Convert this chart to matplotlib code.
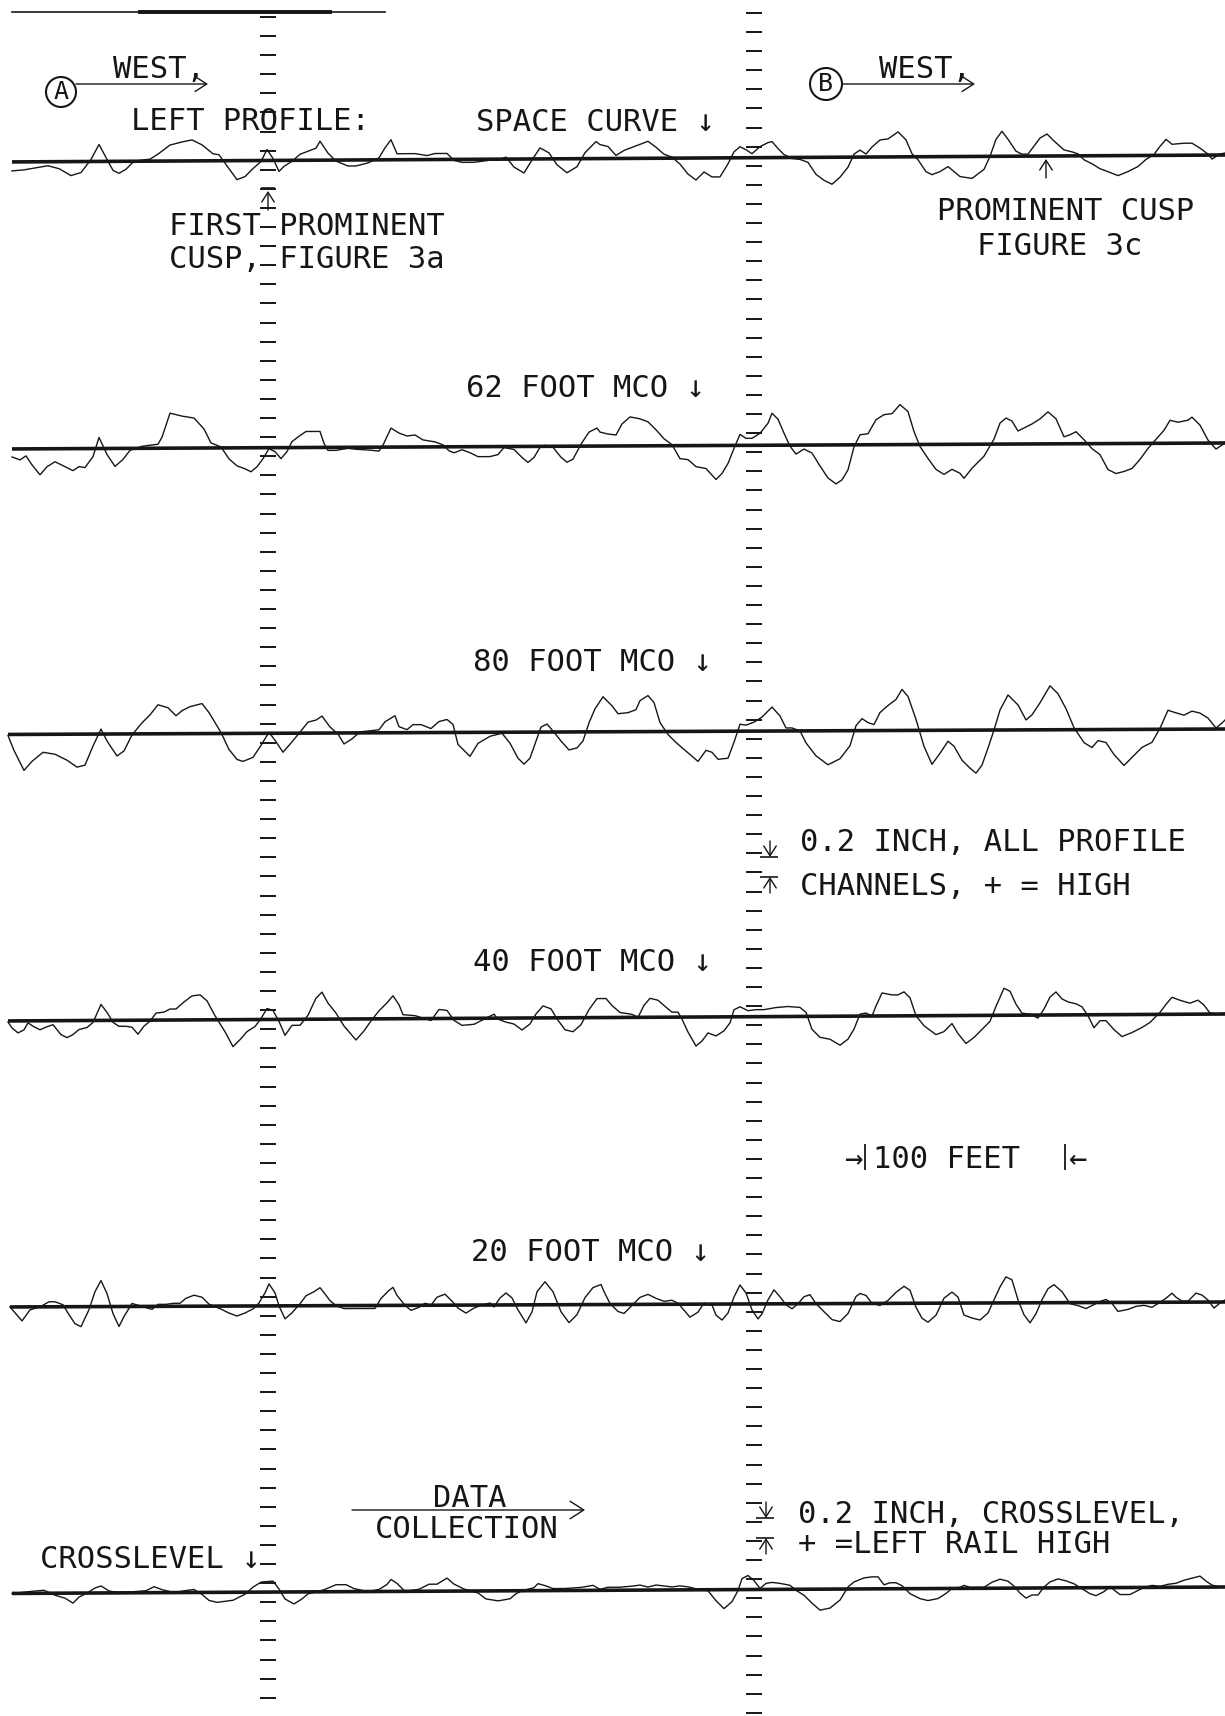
import numpy as np
import matplotlib.pyplot as plt
from matplotlib.patches import Circle

# recorder channels: distance along track (feet) and offset (1/50 inch, + = high)
space_ft = [6, 12, 18, 24, 29.5, 35.5, 40.5, 45.5, 49.5, 53.5, 56.5, 59.5, 63, 67, 75, 79, 85, 91, 96, 101,
            106.5, 109.5, 114.5, 118.5, 122.5, 126.5, 130.5, 133.5, 136.5, 139.5, 142, 146, 150, 154, 158, 160,
            164, 168, 174, 178, 184, 189.5, 192.5, 195.5, 198.5, 201.5, 207.5, 213.5, 217.5, 223.5, 227, 231,
            237, 245, 249, 253, 257, 262, 266, 270, 274.5, 278.5, 283.5, 288.5, 292.5, 298,
            300, 304, 308, 312, 316, 320, 324, 328, 332, 336, 340, 344, 348, 352, 356, 360, 364, 367, 370, 373,
            376, 380, 384, 386, 389, 392, 396, 400, 404, 408, 412, 416, 420, 424, 427, 430, 433, 436, 440, 444,
            449, 453, 456, 459, 463, 466, 470, 474, 477, 480, 486, 492, 495, 498, 501, 504, 508, 511, 514, 517,
            520, 523.5, 527, 532, 536, 539, 542, 546, 550, 554, 559, 564, 569, 573, 577, 580, 583, 586, 592,
            596, 600, 604, 606, 610, 612.5]
space_off = [-4.5, -4, -3, -2, -3.5, -7, -5.5, 1, 8.5, 1, -4.5, -6, -4, 0, 1, 3.5, 8, 9.5, 10.5, 8,
             3.5, 3, -4, -9.5, -8, -4, -0.5, 5.5, 1, -5.5, -3, -0.5, 3, 4.5, 6, 9.5,
             3.5, -0.5, -3, -3, -1.5, 1, 6, 10, 3, 3, 3, 2, 3, 3, -0.5, -1.5,
             -1.5, -0.5, -0.5, 1, -4, -7, -0.5, 5.5, 3, -3, -7, -4, 3, 8.5,
             7, 6, 1.5, 4, 5.5, 7, 8.5, 5.5, 2, 0.5, -3, -8, -11, -7, -9.5, -9.5, -3, 3, 5.5, 4,
             2, 5.5, 7.5, 8, 4.5, 1.5, -0.5, -1, -2.5, -8.5, -11.5, -13.5, -10, -5, 1.5, 3.5, 1.5, 5, 8.5, 9,
             12.5, 8.5, 1.5, -1.5, -7.5, -9, -7.5, -5, -7.5, -10, -11, -6.5, 0, 8.5, 12.5, 8.5, 2.5, 1, 1, 5,
             9, 11, 7.5, 3, 2, 1, -2, -4, -6.5, -8, -10, -8, -5.5, -2, 0.5, 4.5, 8, 5.5, 6,
             6, 3.5, 0.5, -2, 0.5, 1]

mco62_ft = [6, 10, 13, 16, 20, 23.5, 27.5, 31.5, 36.5, 39.5, 42.5, 46.5, 49.5, 53.5, 57.5, 61.5, 65, 71, 79, 81,
            85, 91, 97, 102, 105.5, 110.5, 114.5, 118.5, 122.5, 125.5, 128.5, 131.5, 134.5, 137.5, 140.5, 143.5,
            146, 150, 153, 160, 162, 164, 168, 174, 178, 185.5, 189.5, 191.5, 195.5, 199.5, 203.5, 207.5, 211.5,
            217.5, 221.5, 224.5, 227, 231, 235, 239, 245, 249, 252, 257, 261, 264, 267, 270, 272.5, 276.5, 280.5,
            283.5, 286.5, 290.5, 294.5, 298.5,
            300, 304, 308, 311, 315, 320, 324, 328, 332, 336, 340, 344, 348, 353, 358, 361, 364, 367, 370, 373,
            376, 380, 384, 386, 389, 392, 395, 398, 402, 406, 410, 414, 418, 421, 424, 427, 430, 434, 438, 442,
            446, 450, 454, 457, 460, 464, 468, 472, 476, 480, 482, 486, 492, 497, 500, 503, 506, 509, 512, 516,
            520, 524, 528, 532, 535, 538, 542, 546, 550, 554, 558, 562, 566, 570, 574, 578, 582, 585, 589, 594,
            596, 600, 604, 608, 611, 612.5]
mco62_off = [-4, -5.5, -3.5, -8, -13, -9, -6.5, -8.5, -11, -9, -9.5, -4, 5.5, -3, -9, -5.5, -1, 1, 2, 5.5,
             17.5, 16, 15, 9.5, 2.5, 0.5, -5.5, -9, -10.5, -12, -9.5, -5.5, -0.5, -2, -5.5, -2,
             3, 6, 8, 8, 2, -1.5, -1.5, -0.5, -1, -1.5, -2, 1, 9.5, 7, 5.5, 6, 3.5,
             2.5, 1, -2, -3, -1.5, -3, -5, -5, -4, -0.5, -1.5, -5.5, -8, -5.5, -0.5, 0.5, -0.5, -5.5,
             -8, -6.5, 1, 7, 9,
             7, 6, 5.5, 11, 14.5, 13.5, 12, 8, 3.5, 0.5, -6.5, -7, -10.5, -11.5, -17, -14, -9, -1.5, 5.5, 3.5,
             3.5, 6, 11, 16, 13, 6, -0.5, -4.5, -2, -4, -10.5, -16.5, -19.5, -17.5, -12.5, -1, 5, 5.5, 12.5, 15,
             15.5, 20, 16.5, 6.5, -1, -7, -12.5, -15, -12.5, -14.5, -17, -12, -6, 2.5, 10.5, 13, 11.5, 6.5, 8, 10,
             12.5, 16, 12.5, 3.5, 4.5, 6, 2, -2.5, -5.5, -13, -15, -14, -12.5, -8, -2.5, 2, 6.5, 11.5, 10.5, 11.5,
             13, 9, 1.5, -3, -1, 0.5]

mco80_ft = [4, 7, 12, 16, 21.5, 27.5, 33.5, 38.5, 42.5, 46.5, 50.5, 53.5, 58.5, 62, 66, 71, 75, 79, 84, 88,
            91, 95, 101, 104.5, 110.5, 114.5, 118.5, 121.5, 126.5, 130.5, 134.5, 137.5, 141.5, 145, 150, 154,
            158, 161, 165, 169, 172, 176, 180, 189.5, 192.5, 197.5, 199.5, 203.5, 206.5, 210.5, 215.5, 219.5,
            223.5, 226.5, 229, 235, 239, 245, 251, 255, 259, 262, 265, 268, 270.5, 273.5, 276.5, 280.5, 284.5,
            288.5, 291.5, 294.5, 297.5, 301.5,
            306, 309, 314, 318, 320, 324, 327, 330, 334, 338, 342, 349, 353, 356, 359, 364, 367, 370, 373, 377,
            381, 386, 390, 393, 396, 400, 403, 408, 414, 420, 425, 428, 431, 434, 437, 440, 444, 448, 451, 454,
            458, 462, 466, 470, 474, 477, 481, 485, 488, 491, 494, 497, 500, 504, 509, 513, 516, 520, 525, 529,
            533, 537, 542, 546, 549, 553, 557, 562, 566, 571, 576, 580, 584, 587, 592, 596, 600, 604, 608, 611,
            612.5]
mco80_off = [-0.5, -8, -18, -13.5, -9, -10, -13, -16.5, -15.5, -6, 2.5, -3.5, -11, -8.5, -0.5, 5.5, 9.5, 14.5, 13, 9,
             11.5, 13.5, 15, 10.5, 0.5, -8, -13, -14, -12, -6, 0.5, -3.5, -9.5, -5.5, 0.5, 5.5,
             6.5, 8.5, 3, -0.5, -5.5, -3, 0.5, 1.5, 5.5, 8.5, 3, 1.5, 4, 4, 2, 5.5,
             6.5, 4, -6, -12, -5.5, -2, -0.5, -5.5, -13, -16, -13, -4.5, 2.5, 4, 0.5, -4.5, -9,
             -8, -4.5, 4.5, 11.5, 17.5,
             13, 9, 9.5, 11, 15.5, 18, 14.5, 4.5, -1.5, -5.5, -9, -15, -9.5, -10.5, -14, -13.5, -5.5, 3.5, 3, 4.5,
             7, 12, 7.5, 1.5, 1.5, 0, -6, -12.5, -17, -14, -7.5, 2.5, 6, 4, 3, 9, 12.5, 15.5, 20.5, 17,
             5.5, -8, -17, -11.5, -5.5, -8, -15, -19, -21.5, -17.5, -9, 0, 10, 17.5, 12.5, 5, 7.5, 13.5, 22, 18,
             10.5, 1, -6.5, -9, -5.5, -6.5, -12.5, -18, -14, -9, -6.5, 0.5, 9.5, 8.5, 7, 9, 8, 5.5, 0.5, 3,
             4.5]

mco40_ft = [4, 6, 9, 12, 14, 17, 20, 23.5, 26.5, 30.5, 33.5, 36.5, 39.5, 43.5, 46.5, 50.5, 53.5, 56.5, 59.5, 63,
            66, 69, 72, 75, 78, 82, 85, 88, 92, 96, 100, 103.5, 107.5, 112.5, 116.5, 120.5, 123.5, 127.5, 130.5,
            133.5, 136.5, 139.5, 142.5, 146, 150, 154, 158, 161, 164, 168, 172, 178, 182, 185.5, 189.5, 193.5,
            196.5, 199.5, 201.5, 207.5, 215.5, 219.5, 223.5, 227, 231, 237, 241, 247, 249, 253, 257, 261, 265,
            268, 271.5, 275.5, 278.5, 282.5, 286.5, 290.5, 294.5, 298.5,
            303, 306, 310, 316, 319, 322, 325, 329, 333, 336, 339, 341, 344, 348, 351, 354, 358, 362, 365, 367,
            370, 374, 378, 382, 388, 394, 400, 403, 406, 410, 415, 420, 424, 427, 430, 433, 436, 438, 441, 446,
            449, 452, 455, 458, 462, 468, 472, 476, 479, 483, 487, 491, 495, 498, 502, 505, 508, 511, 515, 519,
            522, 525, 528, 531, 534, 538, 541, 544, 547, 550, 553, 557, 561, 566, 571, 575, 580, 583, 586, 590,
            595, 599, 602, 605, 609, 612.5]
mco40_off = [-0.5, -3.5, -6, -4.5, -1, -3, -4.5, -3, -2, -7, -8.5, -7, -4.5, -3.5, -1, 8, 4, -1, -3, -3,
             -3.5, -7, -3, -0.5, 3.5, 4, 5.5, 5.5, 9, 12, 12.5, 9.5, 2, -6, -13.5, -9.5, -6, -3.5, 0.5,
             5.5, 4.5, -1, -8, -3, -3, 2, 10.5, 13.5, 8, 3, -3.5, -10.5, -6, -1, 4, 8,
             11.5, 7, 2, 1.5, -1, 4.5, 4, -1, -3.5, -3, -1, 2, -0.5, -2, -3, -6, -3,
             2, 6, 4.5, -0.5, -6, -7, -3.5, 4, 9.5,
             9.5, 6, 2.5, 1.5, 0, 6, 9.5, 8.5, 5, 2.5, 2.5, -1, -7.5, -14.5, -12, -8, -9.5, -7, -3, 3.5,
             5, 3, 3.5, 3.5, 4.5, 5, 4.5, 2, -6.5, -10.5, -11.5, -14.5, -11.5, -6.5, 1, 1.5, 0, 5, 11.5, 10.5,
             10.5, 12, 9, 0, -5, -9.5, -8, -4, -9, -14, -11, -7, -3, 4.5, 13.5, 12, 5.5, 1, 0.5, -1.5,
             3, 9, 11.5, 8, 6.5, 5.5, 4, -0.5, -6.5, -3, -3, -7.5, -11, -9, -6.5, -4, 1, 5, 8.5, 7,
             5.5, 7, 4.5, 0.5, 0, 0.5]

mco20_ft = [5, 8, 11, 15, 20, 24.5, 27.5, 31.5, 34.5, 37.5, 40.5, 44.5, 47.5, 50.5, 53.5, 56.5, 59.5, 62, 66, 71,
            76, 79, 83, 87, 90, 93, 97, 101, 104.5, 110.5, 114.5, 118.5, 122.5, 126.5, 129.5, 132.5, 134.5,
            137.5, 139.5, 142.5, 146, 150, 153, 157, 160, 162, 165, 168, 172, 178, 187.5, 190.5, 194.5, 196.5,
            198.5, 202.5, 205.5, 209.5, 212.5, 215.5, 218.5, 222.5, 226.5, 229, 233, 237, 241, 245, 247, 250,
            253, 256, 259, 263, 266, 268.5, 272.5, 276.5, 280.5, 284.5, 288.5, 292.5, 296.5, 300.5,
            302, 305, 309, 312, 316, 320, 324, 328, 332, 336, 339, 342, 345, 349, 352, 356, 358, 361, 364, 367,
            370, 373, 376, 379, 381, 384, 387, 390, 393, 396, 399, 402, 405, 408, 412, 416, 420, 424, 428, 430,
            433, 436, 440, 444, 448, 452, 455, 458, 461, 464, 468, 472, 476, 479, 482, 486, 490, 494, 497, 500,
            503, 506, 509, 512, 515, 518, 521, 524, 527, 531, 535, 539, 543, 546, 550, 553, 556, 559, 564, 568,
            572, 576, 580, 583, 586, 588, 591, 594, 598, 601, 604, 607, 610, 612.5]
mco20_off = [0, -3.5, -7, -1.5, 0, 2.5, 2.5, 1, -4, -8.5, -10, -1.5, 7.5, 13, 6.5, -3.5, -10, -5, 1.5, 0,
             -1.5, 1, 1, 1.5, 1.5, 4, 5.5, 4.5, 1, -1.5, -3.5, -5, -3.5, -1.5, 1.5, 6.5, 11,
             6.5, 0, -6.5, -3.5, 1, 5, 7, 9, 6.5, 2.5, 0, -1.5, -1.5, -1.5, 3.5, 7.5, 9,
             5, 0, -2.5, -1, 1, 0, 4, 5.5, 1.5, -1.5, -4, -1.5, 0, 1, -1, 3.5,
             6, 3.5, -2.5, -9, -3.5, 6.5, 11.5, 6.5, -3.5, -9, -5, 3.5, 8.5, 10,
             6.5, 0.5, -3.5, -4.5, -0.5, 3.5, 5, 3, 1.5, 2, 0.5, -3, -6.5, -4, 0.5, -0.5, -5.5, -8, -4.5, 3.5,
             9.5, 5.5, -3, -7.5, -5, 2, 7, 3.5, -0.5, -2.5, 0, 3.5, 4.5, 0, -4, -8, -9, -5, 3.5, 5,
             4, 0, -1, 1.5, 5.5, 8.5, 6.5, -2, -7.5, -9.5, -6, 2.5, 5.5, 3, -6, -7.5, -8.5, -5, 1.5, 8,
             13, 11.5, 1.5, -6, -10, -5.5, 1.5, 7, 9, 5.5, -0.5, -1.5, -3, -1.5, 0.5, 1.5, -0.5, -4.5, -3.5, -2,
             -1.5, -2.5, 0, 2, 4.5, 2.5, 0.5, 0.5, 4.5, 3.5, 1, -3, -0.5, 1]

xlevel_ft = [6, 16, 22, 27.5, 32.5, 36.5, 39.5, 43.5, 47.5, 50.5, 54.5, 59.5, 66, 73, 77, 81, 87, 93, 97, 101,
             104.5, 108.5, 116.5, 122.5, 126.5, 130.5, 136.5, 139.5, 142.5, 147, 151, 154, 162, 168, 173, 177,
             184, 189.5, 193.5, 195.5, 198.5, 202.5, 209.5, 214.5, 218.5, 223.5, 227, 232, 239, 243, 249, 255,
             258, 261, 267, 269, 272.5, 276.5, 282.5, 290.5, 296.5,
             300, 304, 310, 316, 320, 324, 328, 332, 336, 340, 344, 348, 354, 358, 362, 366, 369, 371, 374, 377,
             380, 383, 386, 390, 395, 398, 402, 406, 410, 415, 420, 424, 427, 432, 436, 439, 442, 445, 448, 451,
             455, 460, 464, 469, 473, 476, 480, 482, 485, 492, 496, 500, 504, 507, 510, 513, 516, 519, 522, 525,
             529, 533, 537, 541, 545, 548, 552, 555, 558, 560, 565, 568, 572, 576, 580, 584, 588, 592, 596, 600,
             603, 606, 610, 612.5]
xlevel_off = [0, 1, 1.5, -1, -2.5, -5, -2, 0, 2.5, 3.5, 1, 0, 0.5, 1, 3, 1.5, 0, 1, 1.5, -1,
              -4, -5, -4, -1, 2.5, 5, 5.5, 1.5, -3.5, -6, -3.5, -1, 1, 3.5, 3.5, 1.5,
              0, 1, 3.5, 6, 4, 0, 1, 3.5, 3.5, 6.5, 3.5, 1, -1, -4, -5, -4,
              -1.5, 0, 1.5, 3.5, 2.5, 1, 1, 1.5, 2.5,
              0.5, 1.5, 1.5, 2, 2.5, 1.5, 2.5, 2, 1.5, 2, 1.5, 0.5, -0.5, -5.5, -9.5, -6, -0.5, 5.5, 7, 4.5,
              0.5, 3, 3.5, 3, 2, -0.5, -3, -7, -10.5, -9.5, -5.5, 1, 3.5, 5.5, 6, 6, 2, 3, 3, 1.5,
              -2.5, -5, -6, -5, -2.5, 0, 0.5, 1.5, 0.5, 0.5, 3, 4.5, 3.5, 1, -2.5, -5, -3.5, -3.5, 0.5, 3,
              4.5, 3.5, 2, -0.5, -3, -4, -2, 0.5, -2, -3.5, -3.5, -2, 0, 1, 0.5, 1.5, 2, 3.5, 4.5, 5.5,
              3, 1, 0, 0]

channel_names = ['SPACE CURVE', '62 FOOT MCO', '80 FOOT MCO', '40 FOOT MCO', '20 FOOT MCO', 'CROSSLEVEL']
event_ft = [134, 377]          # event-mark columns on the chart
cusp_ft = [134, 523]           # cusps called out on the space curve
bar_feet = 100                 # distance bar
scale_inch = 0.2               # vertical calibration, all channels

OFFSET_UNIT = 0.02             # inches per unit in the offset lists

# ---- page layout: x in feet, y in chart units (50 per inch of offset)
W, H = 612.5, 858.0
PER_INCH = 50.0
INK = '#161616'
MONO = ['DejaVu Sans Mono', 'DejaVu Sans']
rows = [(777.0, 780.5), (633.5, 636.5), (490.75, 493.5), (347.5, 351.0), (204.5, 207.0), (61.25, 64.5)]

fig = plt.figure(figsize=(12.25, 17.16), dpi=100)
ax = fig.add_axes([0, 0, 1, 1])
ax.set_xlim(0, W)
ax.set_ylim(0, H)
ax.axis('off')


def row_y(row, x):
    left, right = row
    return left + (right - left) * np.asarray(x, float) / W


def label(x, y, s, size=22, **kw):
    ax.text(x, y, s, family=MONO, fontsize=size, color=INK, va='baseline', ha='left', **kw)


def arrow(x0, y0, x1, y1, scale=12):
    ax.annotate('', xy=(x1, y1), xytext=(x0, y0),
                arrowprops=dict(arrowstyle='->,head_length=0.7,head_width=0.45', lw=1.0, color=INK,
                                shrinkA=0, shrinkB=0, mutation_scale=scale))


# event-mark tick columns
for x0, top in zip(event_ft, [849.5, 851.5]):
    ys = np.arange(top, 0, -9.55)
    ax.hlines(ys, x0 - 4, x0 + 4, color=INK, lw=1.4)

# chart paper top edge
ax.plot([6, 192.5], [852, 852], color=INK, lw=1.2)
ax.plot([70, 165], [852, 852], color=INK, lw=2.8)

traces = [(space_ft, space_off), (mco62_ft, mco62_off), (mco80_ft, mco80_off),
          (mco40_ft, mco40_off), (mco20_ft, mco20_off), (xlevel_ft, xlevel_off)]
for (ft, off), row in zip(traces, rows):
    ft = np.asarray(ft, float)
    off_in = np.asarray(off, float) * OFFSET_UNIT
    ax.plot(ft, row_y(row, ft) + off_in * PER_INCH, color=INK, lw=1.0)
    ax.plot([ft[0], W], row_y(row, [ft[0], W]), color=INK, lw=2.6, solid_capstyle='butt')

# channel labels
label_pos = [(238, 792.5), (233, 659.5), (236.5, 522.5), (236.5, 372.5), (235.5, 227.5), (20, 74)]
for name, (x, y) in zip(channel_names, label_pos):
    label(x, y, name + ' \u2193')
label(65.5, 793, 'LEFT PROFILE:')

# direction marks A / B
for ch, (cx, cy, r), (x_a, x_b), wx in [('A', (30.5, 812, 7.5), (38, 104), 56.5),
                                         ('B', (413, 816, 8), (421, 487.5), 439.5)]:
    ax.add_patch(Circle((cx, cy), r, fill=False, lw=1.5, color=INK))
    ax.text(cx, cy, ch, family=MONO, fontsize=18, color=INK, ha='center', va='center')
    ya = cy + 4 if ch == 'A' else cy
    arrow(x_a, ya, x_b, ya)
    label(wx, 819, 'WEST,')

# cusp call-outs
x_l, x_r = cusp_ft
arrow(x_l, 753, x_l, 762.5, scale=10)
ax.hlines(764, x_l - 3.5, x_l + 3.5, color=INK, lw=1.2)
label(84.5, 740.5, 'FIRST PROMINENT')
label(84.5, 724, 'CUSP, FIGURE 3a')
arrow(x_r, 769, x_r, 778.5, scale=10)
label(468.5, 748, 'PROMINENT CUSP')
label(488.5, 730.5, 'FIGURE 3c')

# vertical calibration for the profile channels
span = scale_inch * PER_INCH
top = 429.5
arrow(385, top + 8, 385, top, scale=10)
arrow(385, top - span - 8, 385, top - span, scale=10)
ax.hlines([top, top - span], 380, 389, color=INK, lw=1.2)
label(400, 432.5, '0.2 INCH, ALL PROFILE')
label(400, 410.5, 'CHANNELS, + = HIGH')

# distance bar
x0 = 432.5
ax.vlines([x0, x0 + bar_feet], 273, 286, color=INK, lw=1.3)
ax.text(x0 - 1.5, 274, '\u2192', family=MONO, fontsize=22, color=INK, ha='right', va='baseline')
label(x0 + 4, 274, '%d FEET' % bar_feet)
ax.text(x0 + bar_feet + 1.5, 274, '\u2190', family=MONO, fontsize=22, color=INK, ha='left', va='baseline')

# data collection direction
arrow(176, 103, 292.5, 103, scale=14)
label(216.5, 104.5, 'DATA')
label(187.5, 89, 'COLLECTION')

# crosslevel calibration
top = 99
arrow(383, top + 8, 383, top, scale=10)
arrow(383, top - span - 8, 383, top - span, scale=10)
ax.hlines([top, top - span], 378, 387, color=INK, lw=1.2)
label(399, 96.5, '0.2 INCH, CROSSLEVEL,')
label(399, 81.5, '+ =LEFT RAIL HIGH')

fig.savefig('out.png', dpi=100, facecolor='white')
